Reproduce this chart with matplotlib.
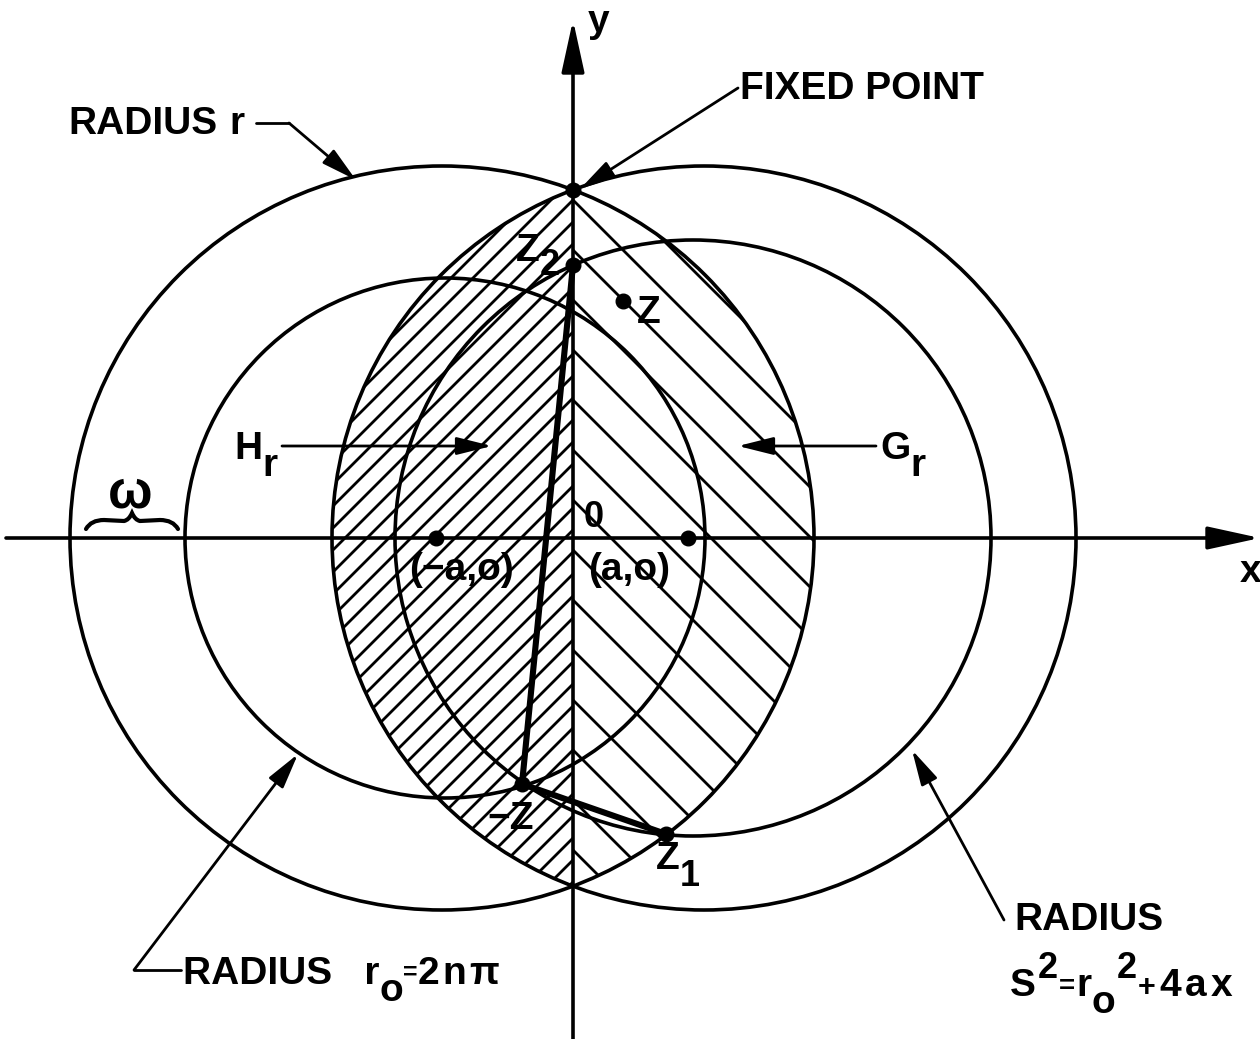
import numpy as np
import matplotlib.pyplot as plt
from matplotlib.patches import Circle, Polygon, PathPatch
from matplotlib.path import Path

plt.rcParams['font.family'] = ['Liberation Sans', 'DejaVu Sans']

# picture units: 1 unit = 1 pixel, origin where the axes cross
circle_cx = [-131, 131, -128, 120]      # big left (r), big right (r), r0 circle, S circle
circle_r = [372, 372, 260, 298]

point_names = ['fixed', 'Z2', 'Z', '-Z', 'Z1', '(-a,o)', '(a,o)']
point_x = [0, 0, 50, -51, 93, -137, 115]
point_y = [348, 273, 237, -246, -296, 0, 0]

path_order = ['Z2', '-Z', 'Z1']

hatch_step_left = 22    # spacing of /// lines (horizontal)
hatch_step_right = 50   # spacing of \\\ lines

OX, OY = 573, 538


def P(px, py):
    return px - OX, OY - py


fig = plt.figure(figsize=(12.6, 10.39), dpi=100)
ax = fig.add_axes([0, 0, 1, 1])
ax.set_xlim(-OX, 1260 - OX)
ax.set_ylim(OY - 1039, OY)
ax.axis('off')
K = 'black'
LW = 2.6

# lens halves: intersection of the two big circles, split by the y axis
cl, cr = circle_cx[0], circle_cx[1]
R = circle_r[0]
t0 = np.arccos(-cr / R)
t = np.linspace(t0, 2 * np.pi - t0, 300)
left_half = np.column_stack([cr + R * np.cos(t), R * np.sin(t)])
t1 = np.arccos(-cl / circle_r[1])
t = np.linspace(-t1, t1, 300)
right_half = np.column_stack([cl + circle_r[1] * np.cos(t), circle_r[1] * np.sin(t)])

lp = Polygon(left_half, closed=True, fill=False, lw=0)
rp = Polygon(right_half, closed=True, fill=False, lw=0)
ax.add_patch(lp)
ax.add_patch(rp)

for c in np.arange(-900, 900, hatch_step_left) + 6:
    ln, = ax.plot([-450, 50], [-450 + c, 50 + c], color=K, lw=2.0)
    ln.set_clip_path(lp)
for c in np.arange(-900, 900, hatch_step_right) + 38:
    ln, = ax.plot([-50, 450], [50 + c, -450 + c], color=K, lw=2.0)
    ln.set_clip_path(rp)

# circles
for cx, r in zip(circle_cx, circle_r):
    ax.add_patch(Circle((cx, 0), r, fill=False, lw=LW, color=K))

# axes with arrows
ax.annotate('', xy=P(573, 20), xytext=P(573, 1045),
            arrowprops=dict(arrowstyle='-|>,head_length=1.6,head_width=0.35',
                            mutation_scale=20, lw=2.6, color=K, shrinkA=0, shrinkB=0))
ax.annotate('', xy=P(1260, 538), xytext=P(6, 538),
            arrowprops=dict(arrowstyle='-|>,head_length=1.6,head_width=0.35',
                            mutation_scale=20, lw=2.6, color=K, shrinkA=0, shrinkB=0))

# thick polyline Z2 -> -Z -> Z1
idx = [point_names.index(n) for n in path_order]
ax.plot([point_x[i] for i in idx], [point_y[i] for i in idx], color=K, lw=4.4,
        solid_joinstyle='round', solid_capstyle='round')

ax.plot(point_x, point_y, 'o', color=K, ms=10.5, zorder=5)


def arrow(start, tip, lw=2.0):
    ax.annotate('', xy=P(*tip), xytext=P(*start),
                arrowprops=dict(arrowstyle='-|>,head_length=1.2,head_width=0.3',
                                mutation_scale=18, lw=lw, color=K,
                                shrinkA=0, shrinkB=0))


def seg(pts, lw=2.0):
    xs, ys = zip(*[P(*p) for p in pts])
    ax.plot(xs, ys, color=K, lw=lw, solid_capstyle='round')


# leaders
arrow((738, 88), (580, 189))
seg([(256, 123), (289, 123)])
arrow((289, 123), (356, 180))
arrow((282, 446), (492, 446))
arrow((876, 446), (738, 446))
seg([(181, 970), (134, 970)])
arrow((134, 970), (298, 754))
arrow((1004, 920), (912, 750))

renderer = fig.canvas.get_renderer()
FS = 28


def label(px, py, pieces, weight='bold'):
    """pieces: (text, rise in px, size[, gap px]); py is the baseline in pixel coords"""
    x, y = P(px, py)
    for piece in pieces:
        s, rise, size = piece[:3]
        gap = piece[3] if len(piece) > 3 else 0
        txt = ax.text(x, y + rise, s, fontsize=size, ha='left', va='baseline',
                      fontweight=weight, color=K)
        bb = txt.get_window_extent(renderer)
        x = ax.transData.inverted().transform((bb.x1, bb.y0))[0] + gap


label(740, 99, [('FIXED POINT', 0, FS)])
label(68, 134, [('RADIUS', 0, FS, 12), ('r', 0, FS)])
label(588, 32, [('y', 0, FS)])
label(1240, 582, [('x', 0, FS)])
label(516, 261, [('Z', 0, FS), ('2', -14, 26)])
label(637, 323, [('Z', 0, FS)])
label(234, 459, [('H', 0, FS), ('r', -17, FS)])
label(880, 459, [('G', 0, FS), ('r', -17, FS)])
label(584, 527, [('0', 0, 26)])
label(409, 580, [('(\u2212a,o)', 0, FS)])
label(588, 580, [('(a,o)', 0, FS)])
label(487, 829, [('\u2212Z', 0, FS)])
label(656, 869, [('Z', 0, FS), ('1', -17, 26)])
label(183, 984, [('RADIUS   r', 0, FS), ('o', -17, FS), ('=', 4, 18), ('2', 0, FS, 3),
                 ('n', 0, FS, 3), ('\u03c0', 0, FS)])
label(1014, 930, [('RADIUS', 0, FS)])
label(1010, 996, [('S', 0, FS, 2), ('2', 18, 26, 1), ('=', 2, 20, 1), ('r', 0, FS),
                  ('o', -17, FS, 2), ('2', 18, 26, 1), ('+', 0, 22, 4), ('4', 0, FS, 3),
                  ('a', 0, FS, 4), ('x', 0, FS)])

# omega with its brace
ax.text(*P(130, 494), '\u03c9', fontsize=38, ha='center', va='center',
        fontweight='bold', color=K)
brace_px = [(86, 529), (91, 520), (104, 520), (124, 521), (129, 520), (132, 513),
            (135, 520), (140, 521), (160, 520), (173, 520), (178, 529)]
codes = [Path.MOVETO, Path.CURVE3, Path.CURVE3, Path.LINETO, Path.CURVE3, Path.CURVE3,
         Path.CURVE3, Path.CURVE3, Path.LINETO, Path.CURVE3, Path.CURVE3]
brace = Path([P(*p) for p in brace_px], codes)
ax.add_patch(PathPatch(brace, fill=False, lw=3.0, color=K, capstyle='round'))

fig.savefig('out.png', dpi=100)
